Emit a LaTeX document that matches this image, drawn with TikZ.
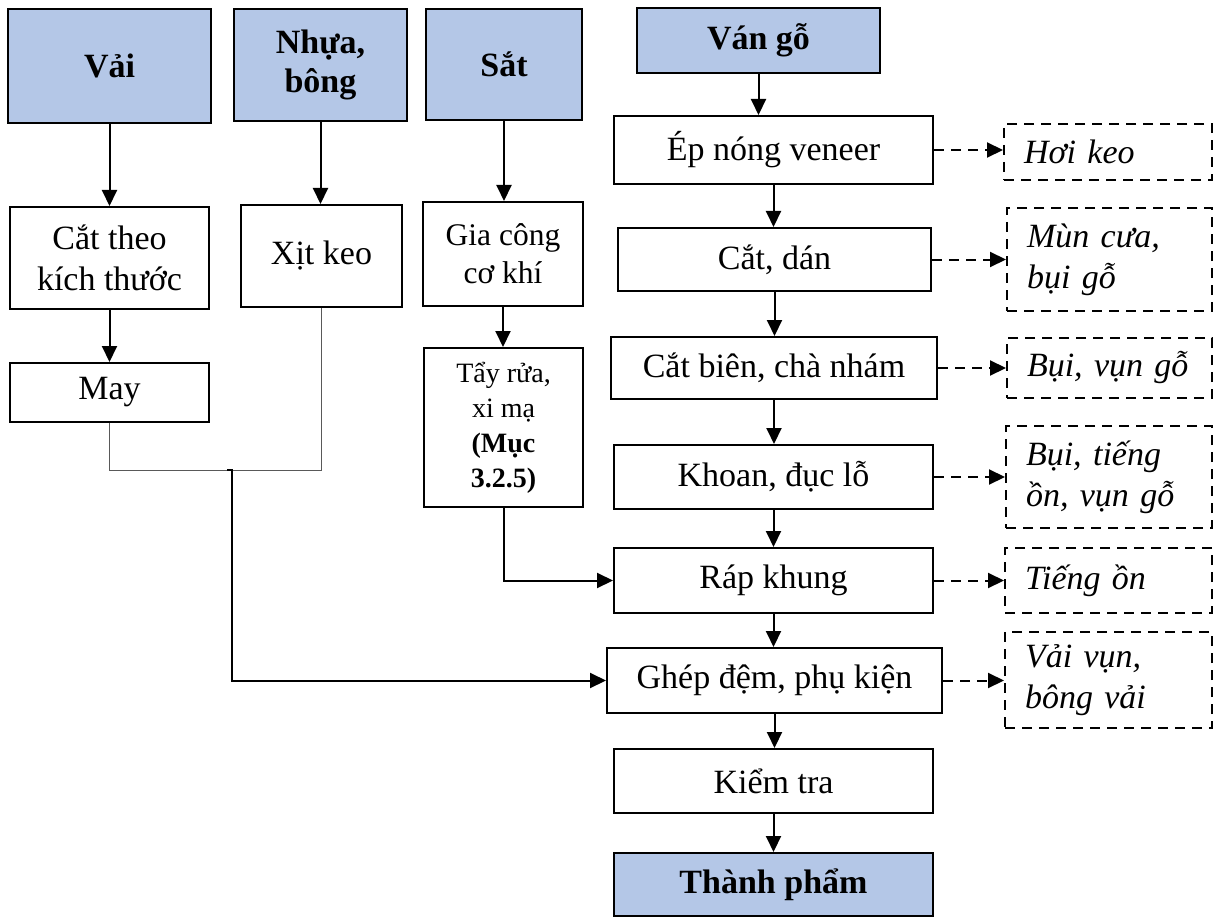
\documentclass[tikz,border=0pt]{standalone}
\usepackage{fontspec}
\setmainfont{Liberation Serif}
\usetikzlibrary{arrows.meta}
\definecolor{boxblue}{HTML}{B4C7E7}
\begin{document}
\begin{tikzpicture}[x=1pt,y=-1pt,
  base/.style={draw=black, line width=2pt, inner sep=0pt, align=center, font=\fontsize{34}{41}\selectfont},
  src/.style={base, fill=boxblue, font=\fontsize{34}{39}\selectfont\bfseries},
  proc/.style={base, fill=white},
  emis/.style={draw=black, line width=2pt, dash pattern=on 10pt off 7pt, inner xsep=20pt, inner ysep=0pt, align=left, font=\fontsize{34}{41}\selectfont\itshape},
  arr/.style={line width=2pt, -{Triangle[length=16pt,width=15pt]}},
  darr/.style={arr, dash pattern=on 10pt off 7pt},
  thinline/.style={line width=1pt, draw=black!65}
]
\useasboundingbox (0,0) rectangle (1214,917);

% source boxes
\node[src, minimum width=203pt, minimum height=114pt] (vai) at (109.5,66) {Vải};
\node[src, minimum width=173pt, minimum height=112pt] (nhua) at (320.5,65) {Nhựa,\\bông};
\node[src, minimum width=156pt, minimum height=111pt] (sat) at (504,64.5) {Sắt};
\node[src, minimum width=243pt, minimum height=65pt] (van) at (758.5,40.5) {Ván gỗ};

% left processes
\node[proc, minimum width=199pt, minimum height=102pt] (cat) at (109.5,258) {Cắt theo\\kích thước};
\node[proc, minimum width=161pt, minimum height=102pt] (xit) at (321.5,256) {Xịt keo};
\node[proc, minimum width=160pt, minimum height=104pt, font=\fontsize{31.5}{38}\selectfont] (gia) at (503,254) {Gia công\\cơ khí};
\node[proc, minimum width=199pt, minimum height=59pt] (may) at (109.5,392.5) {May};
\node[proc, minimum width=159pt, minimum height=159pt, font=\fontsize{28}{35}\selectfont] (tay) at (503.5,427.5) {Tẩy rửa,\\xi mạ\\\textbf{(Mục}\\\textbf{3.2.5)}};

% main column
\node[proc, minimum width=319pt, minimum height=68pt] (ep) at (773.5,150) {Ép nóng veneer};
\node[proc, minimum width=313pt, minimum height=63pt] (cd) at (774.5,259.5) {Cắt, dán};
\node[proc, minimum width=326pt, minimum height=62pt] (cb) at (774,368) {Cắt biên, chà nhám};
\node[proc, minimum width=319pt, minimum height=64pt] (kh) at (773.5,477) {Khoan, đục lỗ};
\node[proc, minimum width=319pt, minimum height=65pt] (rap) at (773.5,580.5) {Ráp khung};
\node[proc, minimum width=335pt, minimum height=65pt] (ghep) at (774.5,680.5) {Ghép đệm, phụ kiện};
\node[proc, minimum width=319pt, minimum height=64pt] (kt) at (773.5,781) {Kiểm tra};
\node[src, minimum width=319pt, minimum height=63pt] (tp) at (773.5,884.5) {Thành phẩm};

% emission boxes
\node[emis, minimum width=208pt, minimum height=56pt, text width=168pt] (e1) at (1108,152) {Hơi keo};
\node[emis, minimum width=205pt, minimum height=103pt, text width=165pt] (e2) at (1109.5,259.5) {Mùn cưa,\\bụi gỗ};
\node[emis, minimum width=205pt, minimum height=60pt, text width=165pt] (e3) at (1109.5,368) {Bụi, vụn gỗ};
\node[emis, minimum width=206pt, minimum height=102pt, text width=166pt] (e4) at (1109,477) {Bụi, tiếng\\ồn, vụn gỗ};
\node[emis, minimum width=207pt, minimum height=65pt, text width=167pt] (e5) at (1108.5,580.5) {Tiếng ồn};
\node[emis, minimum width=207pt, minimum height=96pt, text width=167pt] (e6) at (1108.5,680) {Vải vụn,\\bông vải};

% left arrows
\draw[arr] (vai.south) -- (vai.south |- cat.north);
\draw[arr] (nhua.south) -- (nhua.south |- xit.north);
\draw[arr] (sat.south) -- (sat.south |- gia.north);
\draw[arr] (cat.south) -- (cat.south |- may.north);
\draw[arr] (gia.south) -- (gia.south |- tay.north);
\draw[arr] (tay.south) |- (rap.west);

% merging lines
\coordinate (jn) at (232,470);
\coordinate (jn0) at (227,470);
\draw[thinline] (may.south) |- (xit.south |- jn) -- (xit.south);
\draw[arr] (jn0) -- (jn) |- (ghep.west);

% main column arrows
\draw[arr] (van.south) -- (van.south |- ep.north);
\draw[arr] (ep.south) -- (ep.south |- cd.north);
\draw[arr] (cd.south) -- (cd.south |- cb.north);
\draw[arr] (cb.south) -- (cb.south |- kh.north);
\draw[arr] (kh.south) -- (kh.south |- rap.north);
\draw[arr] (rap.south) -- (rap.south |- ghep.north);
\draw[arr] (ghep.south) -- (ghep.south |- kt.north);
\draw[arr] (kt.south) -- (kt.south |- tp.north);

% dashed arrows
\draw[darr] (ep.east) -- (ep.east -| e1.west);
\draw[darr] (cd.east) -- (cd.east -| e2.west);
\draw[darr] (cb.east) -- (cb.east -| e3.west);
\draw[darr] (kh.east) -- (kh.east -| e4.west);
\draw[darr] (rap.east) -- (rap.east -| e5.west);
\draw[darr] (ghep.east) -- (ghep.east -| e6.west);
\end{tikzpicture}
\end{document}
